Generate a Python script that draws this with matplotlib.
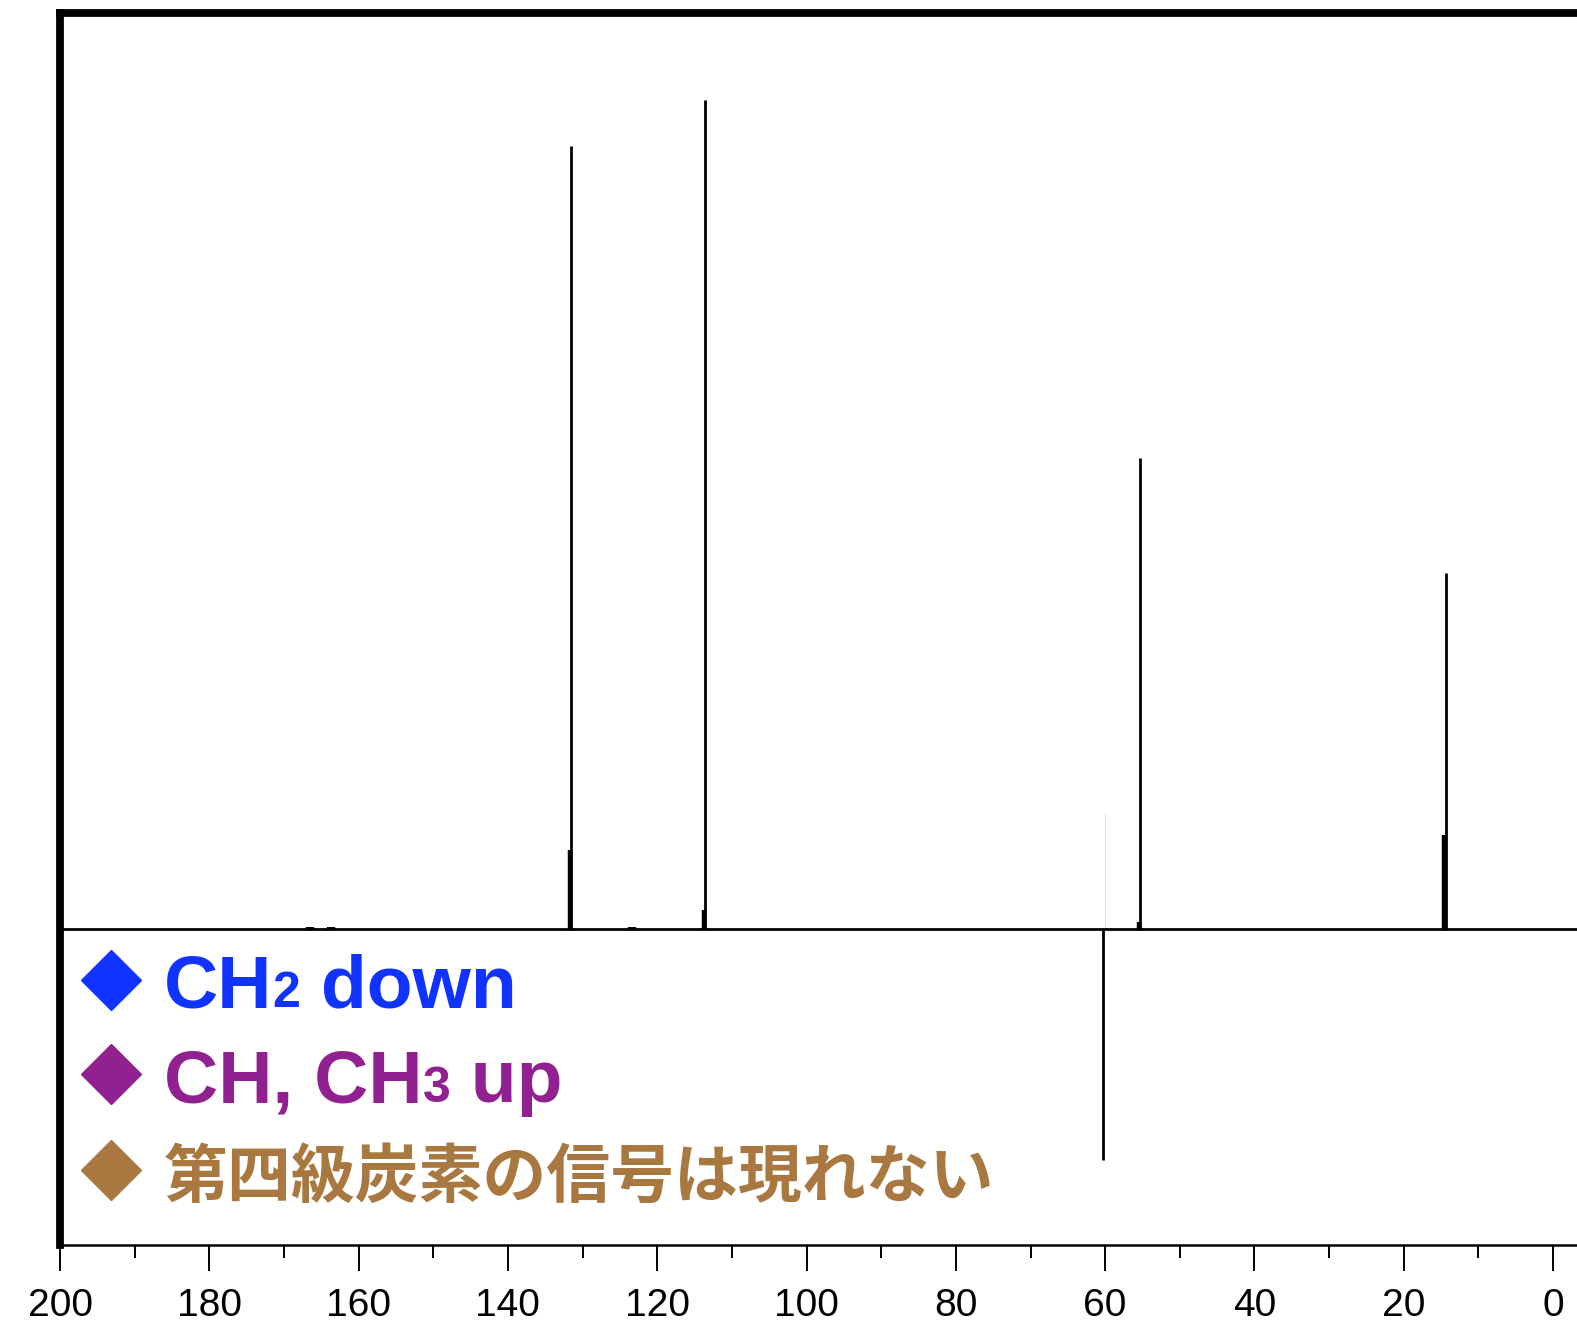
import matplotlib
matplotlib.use("Agg")
import matplotlib.pyplot as plt
from matplotlib.transforms import IdentityTransform
from matplotlib.ticker import MultipleLocator

# DEPT-135 13C spectrum: ppm positions and relative intensities (negative = CH2)
peak_ppm = [131.5, 113.6, 60.3, 55.4, 14.4]
peak_int = [94.5, 100.0, -27.9, 56.8, 42.9]

# unresolved satellite lines at the foot of the main peaks
shoulder_ppm = [131.65, 113.75, 55.5, 14.55]
shoulder_int = [9.5, 2.3, 0.8, 11.3]

# small humps on the baseline
bump_ppm = [166.5, 163.7, 123.4]
bump_int = [0.3, 0.3, 0.3]

# faint artefact line next to the CH2 signal
ghost_ppm = [60.05]
ghost_int = [14.0]

ppm_range = (199.77, -3.2)
int_range = (-38.1, 110.5)
major_ticks = [200, 180, 160, 140, 120, 100, 80, 60, 40, 20, 0]

legend_lines = [
    ([("CH", 54), ("2", 36), (" down", 54)], "#1133ff"),
    ([("CH, CH", 54), ("3", 36), (" up", 54)], "#912190"),
    ([("第四級炭素の信号は現れない", 46)], "#a87840"),
]

W, H = 1577, 1323
fig = plt.figure(figsize=(W / 100, H / 100), dpi=100)
ax = fig.add_axes([60 / W, 78 / H, 1 - 60 / W, (1245 - 13) / H])

ax.axhline(0, color="black", lw=2.0, zorder=2)
ax.vlines(peak_ppm, 0, peak_int, color="black", lw=2.0, zorder=3)
ax.vlines(shoulder_ppm, 0, shoulder_int, color="black", lw=3.2, zorder=3)
ax.vlines(bump_ppm, 0, bump_int, color="black", lw=6, zorder=3)
ax.vlines(ghost_ppm, 0, ghost_int, color="#e2e2e2", lw=0.8, zorder=1)

ax.set_xlim(*ppm_range)
ax.set_ylim(*int_range)

ax.spines["right"].set_visible(False)
ax.spines["top"].set_linewidth(5.6)
ax.spines["left"].set_linewidth(5.6)
ax.spines["bottom"].set_linewidth(1.8)

ax.set_yticks([])
ax.set_xticks(major_ticks)
ax.xaxis.set_minor_locator(MultipleLocator(10))
ax.tick_params(axis="x", which="major", direction="out", length=19, width=1.4,
               pad=12, labelsize=28)
ax.tick_params(axis="x", which="minor", direction="out", length=9, width=1.4)
for lab in ax.get_xticklabels():
    lab.set_fontfamily("Liberation Sans")

# legend: diamond marker followed by mixed-size bold text
renderer = fig.canvas.get_renderer()
fam = ["Liberation Sans", "Noto Sans CJK JP", "DejaVu Sans"]
line_y = [1007, 1102, 1197]
marker_y = [980, 1074, 1170]
for (parts, color), ty, my in zip(legend_lines, line_y, marker_y):
    ax.plot([111 / W], [1 - my / H], marker="D", ms=30.5, color=color,
            transform=fig.transFigure, clip_on=False)
    x = 164
    for s, size in parts:
        t = fig.text(x, H - ty, s, fontsize=size, color=color, weight="bold",
                     family=fam, transform=IdentityTransform(),
                     ha="left", va="baseline")
        x += t.get_window_extent(renderer).width

fig.savefig("out.png", dpi=100)
